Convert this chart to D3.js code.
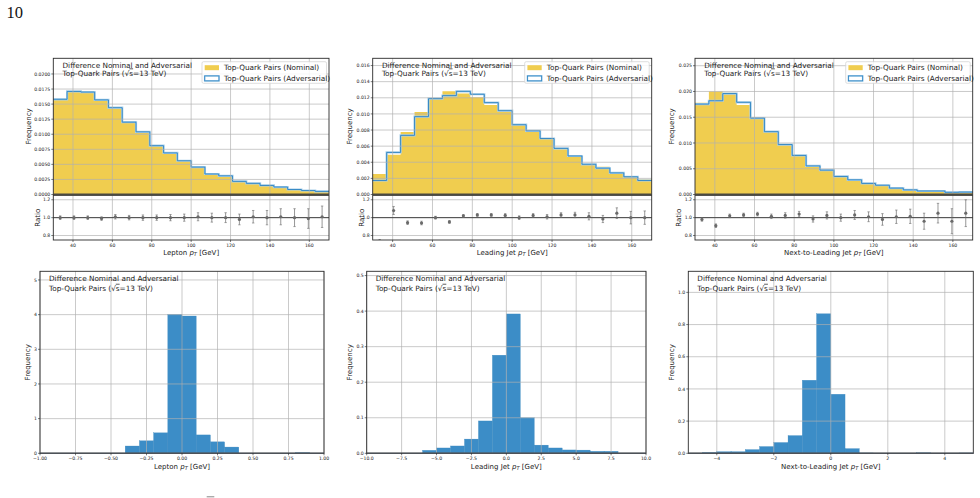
<!DOCTYPE html>
<html>
<head>
<meta charset="utf-8">
<script src="https://cdn.jsdelivr.net/npm/d3@7"></script>
<style>
  body { margin: 0; background: #fff; }
  svg { display: block; font-family: "DejaVu Sans", sans-serif; }
</style>
</head>
<body>
<div id="chart"></div>
<script>
// pT bin edges (GeV), 20 bins of 7 GeV
const ptEdges = [30, 37, 44, 51, 58, 65, 72, 79, 86, 93, 100, 107, 114, 121, 128, 135, 142, 149, 156, 163, 170]

// lepton pT
const lepNominal = [0.01568, 0.0171, 0.0169, 0.0158, 0.01425, 0.0120, 0.0104, 0.00815, 0.00687, 0.0056, 0.00449, 0.00338, 0.0031, 0.00222, 0.00183, 0.0015, 0.00122, 0.00083, 0.00067, 0.0005]
const lepAdversarial = [0.0158, 0.0171, 0.0170, 0.0157, 0.0144, 0.0120, 0.0104, 0.0081, 0.0069, 0.0056, 0.00455, 0.0034, 0.0031, 0.00218, 0.00185, 0.0015, 0.00124, 0.00083, 0.00066, 0.00051]
const lepRatio = [1.0, 1.0, 1.0, 0.99, 1.01, 1.0, 1.0, 1.0, 1.0, 1.0, 1.01, 1.0, 1.0, 0.98, 1.01, 1.0, 1.01, 1.0, 0.99, 1.01]
const lepRatioErr = [0.02, 0.02, 0.02, 0.02, 0.025, 0.025, 0.03, 0.03, 0.035, 0.04, 0.045, 0.05, 0.055, 0.06, 0.07, 0.08, 0.09, 0.1, 0.11, 0.12]

// leading jet pT
const jet1Nominal = [0.00253, 0.00493, 0.00775, 0.01024, 0.0119, 0.0128, 0.01252, 0.01206, 0.0111, 0.0103, 0.00866, 0.00788, 0.00692, 0.0056, 0.00468, 0.00373, 0.00344, 0.00261, 0.0022, 0.00187]
const jet1Adversarial = [0.00174, 0.00522, 0.00734, 0.00966, 0.0119, 0.01227, 0.0128, 0.01244, 0.0114, 0.0104, 0.00866, 0.0079, 0.00695, 0.00572, 0.00478, 0.00375, 0.00327, 0.00268, 0.0022, 0.00174]
const jet1Ratio = [0.70, 1.08, 0.944, 0.94, 1.0, 0.952, 1.02, 1.03, 1.03, 1.025, 1.0, 1.025, 1.01, 1.03, 1.03, 1.015, 0.985, 1.05, 1.0, 1.0]
const jet1RatioErr = [0.055, 0.045, 0.02, 0.02, 0.015, 0.015, 0.015, 0.015, 0.015, 0.02, 0.02, 0.02, 0.025, 0.025, 0.03, 0.04, 0.04, 0.06, 0.07, 0.075]

// next-to-leading jet pT
const jet2Nominal = [0.0178, 0.0200, 0.01975, 0.01736, 0.01464, 0.01211, 0.00959, 0.00758, 0.00563, 0.0046, 0.0035, 0.00278, 0.00214, 0.00175, 0.00123, 0.0009, 0.0007, 0.00065, 0.00045, 0.00045]
const jet2Adversarial = [0.01755, 0.0182, 0.0196, 0.0179, 0.01483, 0.0122, 0.0097, 0.00758, 0.00555, 0.00473, 0.0035, 0.00285, 0.00215, 0.0018, 0.00124, 0.0009, 0.00068, 0.00068, 0.00043, 0.00047]
const jet2Ratio = [0.98, 0.91, 1.02, 1.03, 1.04, 1.015, 1.025, 1.04, 0.985, 1.025, 1.0, 1.03, 1.01, 0.98, 1.01, 1.015, 0.96, 1.05, 0.96, 1.05]
const jet2RatioErr = [0.02, 0.02, 0.02, 0.02, 0.02, 0.025, 0.03, 0.03, 0.035, 0.04, 0.04, 0.05, 0.055, 0.065, 0.075, 0.08, 0.09, 0.11, 0.14, 0.15]

// differences (nominal - adversarial), density histograms
const lepDiffEdges = [-1, -0.9, -0.8, -0.7, -0.6, -0.5, -0.4, -0.3, -0.2, -0.1, 0, 0.1, 0.2, 0.3, 0.4, 0.5, 0.6, 0.7, 0.8, 0.9, 1]
const lepDiff = [0, 0, 0, 0, 0, 0, 0.21, 0.36, 0.59, 4.01, 3.96, 0.53, 0.33, 0.18, 0, 0, 0, 0, 0.02, 0]
const jet1DiffEdges = [-10, -9, -8, -7, -6, -5, -4, -3, -2, -1, 0, 1, 2, 3, 4, 5, 6, 7, 8, 9, 10]
const jet1Diff = [0, 0, 0, 0, 0.0084, 0.015, 0.0206, 0.040, 0.091, 0.276, 0.392, 0.100, 0.023, 0.015, 0.0094, 0.009, 0.0056, 0.0056, 0, 0]
const jet2DiffEdges = [-5, -4.5, -4, -3.5, -3, -2.5, -2, -1.5, -1, -0.5, 0, 0.5, 1, 1.5, 2, 2.5, 3, 3.5, 4, 4.5, 5]
const jet2Diff = [0, 0.005, 0.01, 0.01, 0.023, 0.042, 0.067, 0.11, 0.454, 0.867, 0.367, 0.029, 0.002, 0, 0, 0, 0.003, 0, 0, 0.002]

const ptTicks = [40, 60, 80, 100, 120, 140, 160]
const ratioTicks = [0.8, 1.0, 1.2]

const YELLOW = '#f0cd4f'
const BLUE = '#3c8dc7'
const LINE_BLUE = '#2b82c2'
const GRID = '#b0b0b0'

const svg = d3.select('#chart').append('svg').attr('width', 980).attr('height', 498)

svg.append('text').attr('x', 6.5).attr('y', 18.3)
  .style('font-family', '"Liberation Serif", serif').style('font-size', '16.5px').attr('fill', '#111')
  .text('10')

let clipId = 0
function clip(x0, y0, x1, y1) {
  const id = 'clip' + (clipId++)
  svg.append('clipPath').attr('id', id).append('rect')
    .attr('x', x0).attr('y', y0).attr('width', x1 - x0).attr('height', y1 - y0)
  return `url(#${id})`
}

function ptLabel(g, name) {
  g.append('tspan').text(name + ' ')
  g.append('tspan').text('p').style('font-style', 'italic')
  g.append('tspan').text('T').style('font-style', 'italic').style('font-size', '5px').attr('dy', 1.6)
  g.append('tspan').text(' [GeV]').attr('dy', -1.6)
}

function annotation(x0, y1, y2) {
  svg.append('text').attr('x', x0).attr('y', y1).style('font-size', '7.3px').attr('fill', '#222')
    .text('Difference Nominal and Adversarial')
  const t = svg.append('text').attr('x', x0).attr('y', y2).style('font-size', '7.3px').attr('fill', '#222')
  t.append('tspan').text('Top-Quark Pairs (√')
  t.append('tspan').text('s').style('text-decoration', 'overline')
  t.append('tspan').text('=13 TeV)')
}

function grid(g, x, y, xt, yt, x0, x1, y0, y1) {
  g.selectAll(null).data(xt).enter().append('line')
    .attr('x1', d => x(d)).attr('x2', d => x(d)).attr('y1', y0).attr('y2', y1)
    .attr('stroke', GRID).attr('stroke-width', 0.8).attr('stroke-opacity', 0.85)
  g.selectAll(null).data(yt).enter().append('line')
    .attr('x1', x0).attr('x2', x1).attr('y1', d => y(d)).attr('y2', d => y(d))
    .attr('stroke', GRID).attr('stroke-width', 0.8).attr('stroke-opacity', 0.85)
}

function yAxis(g, y, ticks, fmt, x0) {
  const a = g.selectAll(null).data(ticks).enter().append('g')
    .attr('transform', d => `translate(${x0},${y(d)})`)
  a.append('line').attr('x1', -2).attr('x2', 0).attr('stroke', '#222').attr('stroke-width', 0.6)
  a.append('text').attr('x', -3).attr('dy', '0.35em').attr('text-anchor', 'end')
    .style('font-size', '4.6px').attr('fill', '#222').text(fmt)
}

function xAxis(g, x, ticks, fmt, yb) {
  const a = g.selectAll(null).data(ticks).enter().append('g')
    .attr('transform', d => `translate(${x(d)},${yb})`)
  a.append('line').attr('y1', 0).attr('y2', 2).attr('stroke', '#222').attr('stroke-width', 0.6)
  a.append('text').attr('y', 6.5).attr('text-anchor', 'middle')
    .style('font-size', '4.6px').attr('fill', '#222').text(fmt)
}

function yLabel(text, x, cy) {
  svg.append('text').attr('transform', `translate(${x},${cy}) rotate(-90)`)
    .attr('text-anchor', 'middle').style('font-size', '7px').attr('fill', '#222').text(text)
}

function topPanel(c) {
  const top = 58.3, bot = 194.5, rTop = 195.3, rBot = 240
  const g = svg.append('g')
  const x = d3.scaleLinear().domain([30, 170]).range([c.x0, c.x1])
  const y = d3.scaleLinear().domain([0, c.yMax]).range([bot, top])
  const yr = d3.scaleLinear().domain([0.75, 1.25]).range([rBot, rTop])

  const steps = ptEdges.map((e, i) => ({ e, v: c.nominal[Math.min(i, c.nominal.length - 1)] }))
  g.append('path').datum(steps)
    .attr('d', d3.area().curve(d3.curveStepAfter).x(d => x(d.e)).y0(y(0)).y1(d => y(d.v)))
    .attr('fill', YELLOW)
  const adv = ptEdges.map((e, i) => ({ e, v: c.adversarial[Math.min(i, c.adversarial.length - 1)] }))
  const stepLine = d3.line().curve(d3.curveStepAfter).x(d => x(d.e)).y(d => y(d.v))
  g.append('path').datum(adv).attr('d', stepLine).attr('fill', 'none')
    .attr('stroke', '#a9d0ea').attr('stroke-width', 2.2)
  g.append('path').datum(adv).attr('d', stepLine).attr('fill', 'none')
    .attr('stroke', LINE_BLUE).attr('stroke-width', 0.9)

  grid(g, x, y, ptTicks, c.yTicks, c.x0, c.x1, top, bot)
  grid(g, x, yr, ptTicks, ratioTicks, c.x0, c.x1, rTop, rBot)

  // ratio points
  g.append('line').attr('x1', c.x0).attr('x2', c.x1).attr('y1', yr(1)).attr('y2', yr(1))
    .attr('stroke', '#444').attr('stroke-width', 1)
  const centers = c.ratio.map((r, i) => ({ xc: (ptEdges[i] + ptEdges[i + 1]) / 2, r, e: c.ratioErr[i] }))
  const pg = g.append('g').attr('clip-path', clip(c.x0, rTop, c.x1, rBot))
  const pt = pg.selectAll(null).data(centers).enter().append('g').attr('fill', '#6a6a6a').attr('stroke', '#6a6a6a')
  pt.append('line').attr('x1', d => x(d.xc)).attr('x2', d => x(d.xc))
    .attr('y1', d => yr(d.r - d.e)).attr('y2', d => yr(d.r + d.e)).attr('stroke-width', 0.7)
  pt.append('line').attr('x1', d => x(d.xc) - 1.2).attr('x2', d => x(d.xc) + 1.2)
    .attr('y1', d => yr(d.r - d.e)).attr('y2', d => yr(d.r - d.e)).attr('stroke-width', 0.6)
  pt.append('line').attr('x1', d => x(d.xc) - 1.2).attr('x2', d => x(d.xc) + 1.2)
    .attr('y1', d => yr(d.r + d.e)).attr('y2', d => yr(d.r + d.e)).attr('stroke-width', 0.6)
  pt.append('circle').attr('cx', d => x(d.xc)).attr('cy', d => yr(d.r)).attr('r', 1.6).attr('stroke', 'none')

  // frames
  g.append('rect').attr('x', c.x0).attr('y', top).attr('width', c.x1 - c.x0).attr('height', bot - top)
    .attr('fill', 'none').attr('stroke', '#2a2a2a').attr('stroke-width', 0.9)
  g.append('rect').attr('x', c.x0).attr('y', rTop).attr('width', c.x1 - c.x0).attr('height', rBot - rTop)
    .attr('fill', 'none').attr('stroke', '#2a2a2a').attr('stroke-width', 0.9)
  g.append('line').attr('x1', c.x0).attr('x2', c.x1).attr('y1', y(0)).attr('y2', y(0))
    .attr('stroke', '#4a4940').attr('stroke-width', 1.8)

  yAxis(g, y, c.yTicks, c.yFmt, c.x0)
  yAxis(g, yr, ratioTicks, d3.format('.1f'), c.x0)
  xAxis(g, x, ptTicks, d3.format('d'), rBot)

  yLabel('Frequency', c.freqX, (top + bot) / 2)
  yLabel('Ratio', c.ratioX, 217.7)
  const xl = svg.append('text').attr('x', (c.x0 + c.x1) / 2).attr('y', 254.5)
    .attr('text-anchor', 'middle').style('font-size', '7px').attr('fill', '#222')
  ptLabel(xl, c.label)

  annotation(c.x0 + 9.2, 67.5, 75.5)

  // legend
  const lx = c.x1 - 127, ly = top + 3.4
  const lg = svg.append('g').attr('transform', `translate(${lx},${ly})`)
  lg.append('rect').attr('width', 124.5).attr('height', 21.6).attr('rx', 1.5)
    .attr('fill', '#fff').attr('fill-opacity', 0.85).attr('stroke', '#d0d0d0').attr('stroke-width', 0.7)
  lg.append('rect').attr('x', 2.7).attr('y', 3.5).attr('width', 14.3).attr('height', 5).attr('fill', YELLOW)
  lg.append('rect').attr('x', 2.7).attr('y', 14.2).attr('width', 14.3).attr('height', 5)
    .attr('fill', 'none').attr('stroke', '#a9d0ea').attr('stroke-width', 1.6)
  lg.append('rect').attr('x', 2.7).attr('y', 14.2).attr('width', 14.3).attr('height', 5)
    .attr('fill', 'none').attr('stroke', LINE_BLUE).attr('stroke-width', 0.8)
  lg.append('text').attr('x', 22).attr('y', 8.6).style('font-size', '7.3px').attr('fill', '#222')
    .text('Top-Quark Pairs (Nominal)')
  lg.append('text').attr('x', 22).attr('y', 19.3).style('font-size', '7.3px').attr('fill', '#222')
    .text('Top-Quark Pairs (Adversarial)')
}

function bottomPanel(c) {
  const top = 271.3, bot = 453.3
  const g = svg.append('g')
  const x = d3.scaleLinear().domain(c.xDomain).range([c.x0, c.x1])
  const y = d3.scaleLinear().domain([0, c.yMax]).range([bot, top])
  const bins = c.values.map((v, i) => ({ a: c.edges[i], b: c.edges[i + 1], v }))
  g.selectAll(null).data(bins.filter(d => d.v > 0)).enter().append('rect')
    .attr('x', d => x(d.a)).attr('width', d => x(d.b) - x(d.a))
    .attr('y', d => y(d.v)).attr('height', d => y(0) - y(d.v))
    .attr('fill', BLUE).attr('stroke', '#3785bd').attr('stroke-width', 0.3)
  grid(g, x, y, c.xTicks, c.yTicks, c.x0, c.x1, top, bot)
  g.append('rect').attr('x', c.x0).attr('y', top).attr('width', c.x1 - c.x0).attr('height', bot - top)
    .attr('fill', 'none').attr('stroke', '#2a2a2a').attr('stroke-width', 0.9)
  g.append('line').attr('x1', c.x0).attr('x2', c.x1).attr('y1', y(0)).attr('y2', y(0))
    .attr('stroke', '#4d5258').attr('stroke-width', 1.4)
  yAxis(g, y, c.yTicks, c.yFmt, c.x0)
  xAxis(g, x, c.xTicks, c.xFmt, bot)
  yLabel('Frequency', c.freqX, (top + bot) / 2)
  const xl = svg.append('text').attr('x', (c.x0 + c.x1) / 2).attr('y', 468.8)
    .attr('text-anchor', 'middle').style('font-size', '7px').attr('fill', '#222')
  ptLabel(xl, c.label)
  annotation(c.x0 + 9, 280.5, 290.8)
}

topPanel({
  x0: 53.3, x1: 329, yMax: 0.0226, nominal: lepNominal, adversarial: lepAdversarial,
  ratio: lepRatio, ratioErr: lepRatioErr, yTicks: d3.range(0, 0.0201, 0.0025), yFmt: d3.format('.4f'),
  label: 'Lepton', freqX: 30.5, ratioX: 39.5
})
topPanel({
  x0: 372.7, x1: 651.7, yMax: 0.0169, nominal: jet1Nominal, adversarial: jet1Adversarial,
  ratio: jet1Ratio, ratioErr: jet1RatioErr, yTicks: d3.range(0, 0.01601, 0.002), yFmt: d3.format('.3f'),
  label: 'Leading Jet', freqX: 352, ratioX: 363.5
})
topPanel({
  x0: 695, x1: 972.7, yMax: 0.02644, nominal: jet2Nominal, adversarial: jet2Adversarial,
  ratio: jet2Ratio, ratioErr: jet2RatioErr, yTicks: d3.range(0, 0.02501, 0.005), yFmt: d3.format('.3f'),
  label: 'Next-to-Leading Jet', freqX: 673.5, ratioX: 681
})

bottomPanel({
  x0: 40, x1: 324, xDomain: [-1, 1], yMax: 5.25, edges: lepDiffEdges, values: lepDiff,
  xTicks: d3.range(-1, 1.01, 0.25), xFmt: d3.format('.2f'), yTicks: [0, 1, 2, 3, 4, 5], yFmt: d3.format('d'),
  label: 'Lepton', freqX: 30
})
bottomPanel({
  x0: 366.7, x1: 646, xDomain: [-10, 10], yMax: 0.512, edges: jet1DiffEdges, values: jet1Diff,
  xTicks: d3.range(-10, 10.1, 2.5), xFmt: d3.format('.1f'), yTicks: [0, 0.1, 0.2, 0.3, 0.4, 0.5], yFmt: d3.format('.1f'),
  label: 'Leading Jet', freqX: 352
})
bottomPanel({
  x0: 688.3, x1: 973.3, xDomain: [-5, 5], yMax: 1.131, edges: jet2DiffEdges, values: jet2Diff,
  xTicks: [-4, -2, 0, 2, 4], xFmt: d3.format('d'), yTicks: [0, 0.2, 0.4, 0.6, 0.8, 1.0], yFmt: d3.format('.1f'),
  label: 'Next-to-Leading Jet', freqX: 673.5
})

// cut-off mark of the caption below the figure
svg.append('line').attr('x1', 206.7).attr('x2', 214.3).attr('y1', 496.8).attr('y2', 496.8)
  .attr('stroke', '#888').attr('stroke-width', 1)
</script>
</body>
</html>
